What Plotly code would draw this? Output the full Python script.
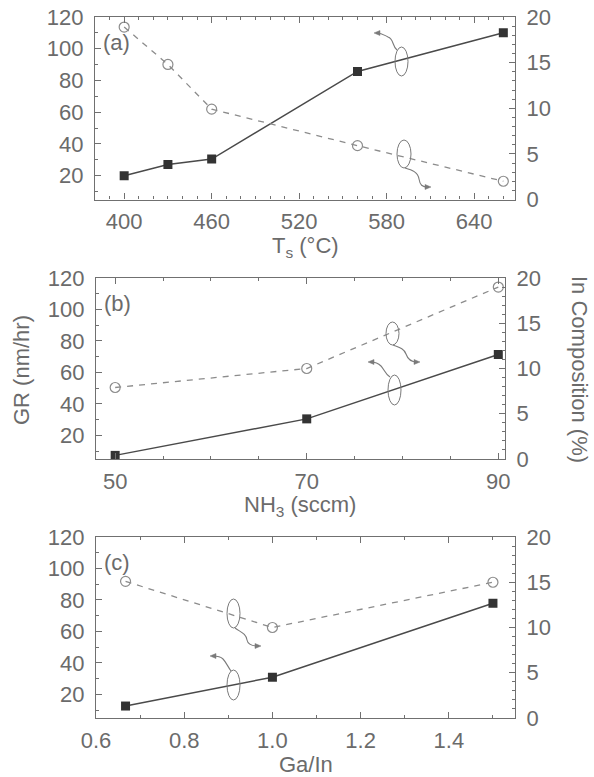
import plotly.graph_objects as go

W, H = 594, 777

# ---------------- data ----------------
ts_x = [400, 430, 460, 560, 660]
ts_gr = [20.0, 27.0, 30.5, 85.7, 110.1]
ts_in = [18.9, 14.8, 9.9, 5.9, 2.0]

nh3_x = [50, 70, 90]
nh3_gr = [7.3, 30.5, 71.4]
nh3_in = [7.9, 10.0, 19.0]

gain_x = [0.667, 1.0, 1.5]
gain_gr = [12.6, 30.9, 77.9]
gain_in = [15.1, 10.0, 15.0]

panel_labels = ["(a)", "(b)", "(c)"]
x_titles = ["T<sub>s</sub> (°C)", "NH<sub>3</sub> (sccm)", "Ga/In"]
y_left_title = "GR (nm/hr)"
y_right_title = "In Composition (%)"

# ---------------- style ----------------
FONT = "Liberation Sans, Arial, sans-serif"
TXT = "#6b6b6b"
AX = "#707070"
SOLID = "#4a4a4a"
SQ = "#333333"
DASH = "#8c8c8c"
FS = 22

# plot boxes in pixels: (left, right, top, bottom)
boxes = [(95, 515, 17, 199.5), (96, 505, 278, 459), (96, 515, 537, 718)]
x_ranges = [[380, 668], [48, 90.7], [0.6, 1.55]]
x_ticks = [dict(tick0=400, dtick=60, minor=10), dict(tick0=50, dtick=20, minor=5),
           dict(tick0=0.6, dtick=0.2, minor=0.1)]
x_fmt = [None, None, ".1f"]
x_title_y = [247, 506, 764]


def px(x):
    return x / W


def py(y):
    return 1 - y / H


fig = go.Figure()

series = [(ts_x, ts_gr, ts_in), (nh3_x, nh3_gr, nh3_in), (gain_x, gain_gr, gain_in)]

layout = dict(
    template="none",
    width=W, height=H, margin=dict(l=0, r=0, t=0, b=0, pad=0),
    paper_bgcolor="white", plot_bgcolor="white", showlegend=False,
    font=dict(family=FONT, size=FS, color=TXT),
)

for i, ((xs, gr, inc), (l, r, t, b)) in enumerate(zip(series, boxes)):
    xn = "x" if i == 0 else f"x{i+1}"
    yl = "y" if i == 0 else f"y{2*i+1}"
    yr = f"y{2*i+2}"
    fig.add_trace(go.Scatter(x=xs, y=gr, xaxis=xn, yaxis=yl, mode="lines+markers",
                             line=dict(color=SOLID, width=1.5),
                             marker=dict(symbol="square", size=9, color=SQ)))
    fig.add_trace(go.Scatter(x=xs, y=inc, xaxis=xn, yaxis=yr, mode="lines+markers",
                             line=dict(color=DASH, width=1.3, dash="6px,6px"),
                             marker=dict(symbol="circle-open", size=10, color=DASH,
                                         line=dict(width=1.2))))
    xk = "xaxis" if i == 0 else f"xaxis{i+1}"
    ylk = "yaxis" if i == 0 else f"yaxis{2*i+1}"
    yrk = f"yaxis{2*i+2}"
    tk = x_ticks[i]
    layout[xk] = dict(
        domain=[px(l), px(r)], anchor=yl, range=x_ranges[i], automargin=False,
        tickmode="linear", tick0=tk["tick0"], dtick=tk["dtick"],
        ticks="inside", ticklen=6, tickwidth=1, tickcolor=AX,
        minor=dict(dtick=tk["minor"], ticks="inside", ticklen=3, tickcolor=AX, showgrid=False),
        showline=True, linecolor=AX, linewidth=1.2, mirror="ticks",
        showgrid=False, zeroline=False, ticklabelstandoff=2,
        tickfont=dict(size=FS, color=TXT),
    )
    if x_fmt[i]:
        layout[xk]["tickformat"] = x_fmt[i]
    layout[ylk] = dict(
        domain=[py(b), py(t)], anchor=xn, range=[5, 120], automargin=False,
        tickmode="linear", tick0=0, dtick=20,
        ticks="inside", ticklen=6, tickwidth=1, tickcolor=AX,
        minor=dict(dtick=10, ticks="inside", ticklen=3, tickcolor=AX, showgrid=False),
        showline=True, linecolor=AX, linewidth=1.2, mirror=False,
        showgrid=False, zeroline=False, ticklabelstandoff=6,
        tickfont=dict(size=FS, color=TXT),
    )
    layout[yrk] = dict(
        domain=[py(b), py(t)], anchor=xn, overlaying=yl, side="right", range=[0, 20],
        automargin=False,
        tickmode="linear", tick0=0, dtick=5,
        ticks="inside", ticklen=6, tickwidth=1, tickcolor=AX,
        minor=dict(dtick=1, ticks="inside", ticklen=3, tickcolor=AX, showgrid=False),
        showline=True, linecolor=AX, linewidth=1.2,
        showgrid=False, zeroline=False, ticklabelstandoff=6,
        tickfont=dict(size=FS, color=TXT),
    )

fig.update_layout(**layout)

annotations = []
for i, (l, r, t, b) in enumerate(boxes):
    annotations.append(dict(text=panel_labels[i], xref="paper", yref="paper",
                            x=px(l + 6), y=py(t + 25), xanchor="left", yanchor="middle",
                            showarrow=False, font=dict(size=FS, color=TXT)))
    annotations.append(dict(text=x_titles[i], xref="paper", yref="paper",
                            x=px((l + r) / 2), y=py(x_title_y[i]), xanchor="center",
                            yanchor="middle", showarrow=False, font=dict(size=FS, color=TXT)))
annotations.append(dict(text=y_left_title, xref="paper", yref="paper", x=px(21), y=py(370),
                        textangle=-90, xanchor="center", yanchor="middle", showarrow=False,
                        font=dict(size=FS, color=TXT)))
annotations.append(dict(text=y_right_title, xref="paper", yref="paper", x=px(579), y=py(369),
                        textangle=90, xanchor="center", yanchor="middle", showarrow=False,
                        font=dict(size=FS, color=TXT)))
fig.update_layout(annotations=annotations)

# ---------------- decorations: ellipses + wavy arrows ----------------
DEC = "#7a7a7a"
ellipses = [(395, 408, 47, 76), (397, 411, 140, 168), (386, 399, 322, 345),
            (388, 401, 375, 405), (227, 240, 599, 628), (227, 240, 670, 700)]
squiggles = [
    [(397, 50), (392, 46), (394, 39), (388, 37), (384, 35), (382, 33), (377, 33)],
    [(405, 168), (412, 170), (418, 172), (419, 179), (420, 185), (422, 187), (428, 187)],
    [(393, 345), (398, 347), (404, 348), (406, 354), (408, 360), (412, 362), (417, 362)],
    [(390, 377), (385, 374), (384, 369), (381, 366), (378, 363), (375, 362), (371, 362)],
    [(235, 628), (240, 632), (246, 633), (247, 640), (248, 645), (253, 646), (258, 646)],
    [(231, 671), (228, 667), (226, 662), (223, 659), (220, 656), (216, 656), (213, 656)],
]
heads = [(374, 33, -1), (431, 187, 1), (420, 362, 1), (368, 362, -1), (261, 646, 1), (210, 656, -1)]

shapes = []
for (x0, x1, y0, y1) in ellipses:
    shapes.append(dict(type="circle", xref="paper", yref="paper",
                       x0=px(x0), x1=px(x1), y0=py(y1), y1=py(y0),
                       line=dict(color=DEC, width=1)))
for pts in squiggles:
    p = [f"{px(a):.5f},{py(c):.5f}" for a, c in pts]
    path = f"M {p[0]} C {p[1]} {p[2]} {p[3]} C {p[4]} {p[5]} {p[6]}"
    shapes.append(dict(type="path", xref="paper", yref="paper", path=path,
                       line=dict(color=DEC, width=1.1)))
for (hx, hy, d) in heads:
    tri = [(hx, hy), (hx - 6 * d, hy - 2.5), (hx - 6 * d, hy + 2.5)]
    p = [f"{px(a):.5f},{py(c):.5f}" for a, c in tri]
    shapes.append(dict(type="path", xref="paper", yref="paper",
                       path=f"M {p[0]} L {p[1]} L {p[2]} Z",
                       fillcolor=DEC, line=dict(color=DEC, width=0.5)))
fig.update_layout(shapes=shapes)

fig.write_html("out.html", config={"displayModeBar": False},
               post_script="document.body.style.margin='0';document.body.style.overflow='hidden';")
